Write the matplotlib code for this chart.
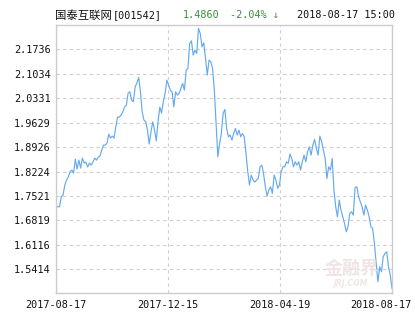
import matplotlib
matplotlib.use("Agg")
import matplotlib.pyplot as plt
import matplotlib.transforms as mtransforms
import numpy as np

# ---- data ----
nav = [1.7212, 1.7212, 1.7212, 1.7499, 1.7548, 1.7836, 1.7979, 1.8074, 1.8218, 1.8267,
       1.8180, 1.8583, 1.8295, 1.8554, 1.8324, 1.8611, 1.8468, 1.8497, 1.8353, 1.8468,
       1.8410, 1.8497, 1.8611, 1.8554, 1.8640, 1.8669, 1.8841, 1.8985, 1.8985, 1.9043,
       1.9301, 1.9186, 1.9244, 1.9186, 1.9511, 1.9790, 1.9790, 1.9847, 1.9942, 2.0086,
       2.0135, 2.0480, 2.0517, 2.0279, 2.0230, 2.0661, 2.0776, 2.0931, 2.0517, 1.9942,
       1.9704, 1.9655, 1.9416, 1.9014, 1.9367, 1.9655, 1.9416, 1.9109, 1.9655, 2.0077,
       1.9905, 2.0230, 2.0471, 2.0853, 2.0710, 2.0566, 2.0517, 2.0086, 2.0517, 2.0422,
       2.0471, 2.0615, 2.0759, 2.0566, 2.1141, 2.1190, 2.1908, 2.1983, 2.1572, 2.1716,
       2.1621, 2.2340, 2.2196, 2.1811, 2.1926, 2.1477, 2.0997, 2.1428, 2.1380, 2.1190,
       2.0566, 1.9609, 1.8649, 1.9034, 1.9322, 1.9896, 2.0011, 1.9465, 1.9224, 1.9273,
       1.9129, 1.9322, 1.9465, 1.9273, 1.9416, 1.9224, 1.9322, 1.9224, 1.8747, 1.8218,
       1.7836, 1.8123, 1.7979, 1.7922, 1.7979, 1.8028, 1.8361, 1.8410, 1.8152, 1.7787,
       1.7519, 1.7692, 1.7787, 1.7597, 1.8123, 1.7979, 1.7741, 1.7836, 1.8218, 1.8361,
       1.8361, 1.8505, 1.8459, 1.8726, 1.8603, 1.8361, 1.8505, 1.8410, 1.8505, 1.8267,
       1.8505, 1.8698, 1.8505, 1.8793, 1.8936, 1.8698, 1.8985, 1.9149, 1.8890, 1.8698,
       1.9244, 1.9080, 1.8841, 1.8603, 1.8028, 1.8361, 1.8267, 1.8603, 1.7692, 1.7212,
       1.6924, 1.7404, 1.7117, 1.6924, 1.6735, 1.6493, 1.6637, 1.7022, 1.7068, 1.6973,
       1.7769, 1.7787, 1.7499, 1.7355, 1.7212, 1.6973, 1.7261, 1.7117, 1.6924, 1.6637,
       1.6591, 1.6160, 1.5585, 1.5056, 1.5487, 1.5343, 1.5774, 1.5872, 1.5918, 1.5487,
       1.5248, 1.4860]
y_ticks = [2.1736, 2.1034, 2.0331, 1.9629, 1.8926, 1.8224, 1.7521, 1.6819, 1.6116, 1.5414]
x_labels = ["2017-08-17", "2017-12-15", "2018-04-19", "2018-08-17"]
fund_name = "国泰互联网"
fund_code = "[001542]"
last_nav = "1.4860"
change = "-2.04% ↓"
stamp = "2018-08-17 15:00"

W, H = 415, 330
fig = plt.figure(figsize=(W / 100, H / 100), dpi=100)
ax = fig.add_axes([56 / W, 1 - 293 / H, (392 - 56) / W, (293 - 25) / H])

n = len(nav)
x = np.arange(n)
ax.plot(x, nav, color="#66aaee", lw=0.85)

ax.set_xlim(0, n - 1)
ax.set_ylim(1.4733, 2.2438)

mono = ["DejaVu Sans Mono", "Noto Sans CJK SC"]
fs = 7.3
ax.set_yticks(y_ticks)
ax.set_yticklabels([f"{v:.4f}" for v in y_ticks], family=mono, fontsize=fs, color="#111111")
xt = np.linspace(0, n - 1, 4)
ax.set_xticks(xt)
ax.set_xticklabels(x_labels, family=mono, fontsize=fs, color="#111111")
ax.tick_params(axis="both", length=0)
ax.tick_params(axis="y", pad=4)
ax.tick_params(axis="x", pad=5)
last = ax.get_xticklabels()[-1]
last.set_transform(last.get_transform() + mtransforms.ScaledTranslation(-11 / 100, 0, fig.dpi_scale_trans))

ax.grid(True, color="#cfcfcf", linestyle=(0, (3, 3)), linewidth=0.8)
for s in ax.spines.values():
    s.set_color("#cccccc")
    s.set_linewidth(1.0)

# watermark
fig.text(352 / W, 1 - 268 / H, "金融界", family=["Noto Sans CJK SC"], fontsize=13,
         color="#f1e4e4", ha="center", va="center", fontweight="bold")
fig.text(350 / W, 1 - 283 / H, "JRJ.COM", family=["DejaVu Sans"], fontsize=5.5,
         color="#f1e4e4", ha="center", va="center", style="italic", fontweight="bold")

# header
ty = 1 - 15.5 / H
fig.text(55 / W, ty, fund_name, family=mono, fontsize=8.2, color="#111111", va="center")
fig.text(113 / W, ty, fund_code, family=mono, fontsize=fs, color="#111111", va="center")
fig.text(183 / W, ty, last_nav, family=mono, fontsize=fs, color="#3c8c3c", va="center")
fig.text(230 / W, ty, change, family=mono, fontsize=fs, color="#3c8c3c", va="center")
fig.text(297 / W, ty, stamp, family=mono, fontsize=fs, color="#111111", va="center")

fig.savefig("out.png", dpi=100)
